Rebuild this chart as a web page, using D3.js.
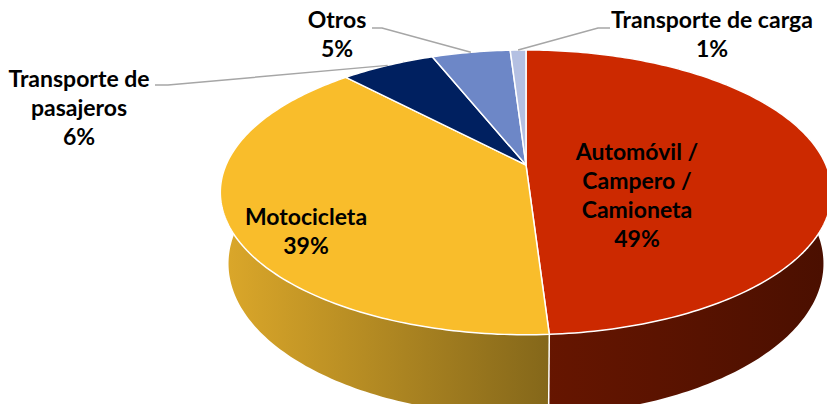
<!DOCTYPE html>
<html>
<head>
<meta charset="utf-8">
<script src="https://cdn.jsdelivr.net/npm/d3@7"></script>
<style>
  html, body { margin: 0; padding: 0; background: #fff; }
  svg { display: block; }
  text { font-family: Lato, "Open Sans", sans-serif; font-weight: 700; fill: #000; }
</style>
</head>
<body>
<svg id="chart" width="827" height="404"></svg>
<script>
// ---- data ----
const categories = ["Automóvil / Campero / Camioneta", "Motocicleta", "Transporte de pasajeros", "Otros", "Transporte de carga"];
const values = [49, 39, 6, 5, 1];
const labelLines = [
  ["Automóvil /", "Campero /", "Camioneta"],
  ["Motocicleta"],
  ["Transporte de", "pasajeros"],
  ["Otros"],
  ["Transporte de carga"]
];

// ---- styles ----
const topColors = ["#CC2900", "#F9BD2B", "#002060", "#6D87C7", "#B4C0E2"];
const sideColors = [["#681600", "#4A0F00"], ["#DCA82A", "#84671A"], ["#001338", "#001338"], ["#415178", "#415178"], ["#6c7388", "#6c7388"]];

// ---- layout / projection ----
const W = 827, H = 404;
const cx = 526, cy = 165;
const S = 300;                 // screen scale of unit radius at centre depth
const k = 0.216;               // radius / camera distance (perspective)
const alpha = 27.2 * Math.PI / 180; // elevation
const depth = 0.27;            // thickness / radius
const sa = Math.sin(alpha), ca = Math.cos(alpha);

// phi: angle clockwise from the back (12 o'clock) of the pie, rho: radius fraction, yy: height
function proj(phi, rho, yy) {
  const X = rho * Math.sin(phi);
  const Z = -rho * Math.cos(phi);
  const d = 1 - k * (yy * sa + Z * ca);
  const up = yy * ca - Z * sa;
  return [cx + S * X / d, cy - S * up / d];
}

const svg = d3.select("#chart");

const pie = d3.pie().sort(null).value(d => d)
  .startAngle(0).endAngle(2 * Math.PI);
const arcs = pie(values);

function arcPoints(a0, a1, yy) {
  const pts = [];
  const steps = Math.max(2, Math.ceil(Math.abs(a1 - a0) / (Math.PI / 180)));
  for (let i = 0; i <= steps; i++) {
    const a = a0 + (a1 - a0) * i / steps;
    pts.push(proj(a, 1, yy));
  }
  return pts;
}

const line = d3.line();
const defs = svg.append("defs");

// gradients for side faces
arcs.forEach((a, i) => {
  const ps = arcPoints(a.startAngle, a.endAngle, 0).concat(arcPoints(a.startAngle, a.endAngle, -depth));
  const xs = ps.map(p => p[0]);
  const xmin = d3.min(xs), xmax = d3.max(xs);
  const g = defs.append("linearGradient")
    .attr("id", "side" + i)
    .attr("gradientUnits", "userSpaceOnUse")
    .attr("x1", i === 1 ? xmin : xmax).attr("x2", i === 1 ? xmax : xmin)
    .attr("y1", 0).attr("y2", 0);
  if (i === 1) {
    g.append("stop").attr("offset", 0).attr("stop-color", sideColors[i][0]);
    g.append("stop").attr("offset", 1).attr("stop-color", sideColors[i][1]);
  } else {
    g.append("stop").attr("offset", 0).attr("stop-color", sideColors[i][1]);
    g.append("stop").attr("offset", 1).attr("stop-color", sideColors[i][0]);
  }
});

// side faces
const sides = svg.append("g");
arcs.forEach((a, i) => {
  const top = arcPoints(a.startAngle, a.endAngle, 0);
  const bot = arcPoints(a.startAngle, a.endAngle, -depth).reverse();
  sides.append("path")
    .attr("d", line(top.concat(bot)) + "Z")
    .attr("fill", `url(#side${i})`)
    .attr("stroke", "none");
});
// seams on the side
arcs.forEach(a => {
  sides.append("path")
    .attr("d", line([proj(a.startAngle, 1, 0), proj(a.startAngle, 1, -depth)]))
    .attr("stroke", "#fff").attr("stroke-width", 1.5).attr("fill", "none");
});

// top faces
const tops = svg.append("g");
arcs.forEach((a, i) => {
  const pts = [proj(0, 0, 0)].concat(arcPoints(a.startAngle, a.endAngle, 0));
  tops.append("path")
    .attr("d", line(pts) + "Z")
    .attr("fill", topColors[i])
    .attr("stroke", "#fff")
    .attr("stroke-width", 1.5)
    .attr("stroke-linejoin", "round");
});

// ---- labels ----
const fmt = v => v + "%";
const fontSize = 23, lh = 29;
// label layout: centre x, first baseline y, optional leader (elbow x, elbow y, end x)
const labelLayout = [
  { x: 637, y: 160, inside: true },
  { x: 306, y: 225, inside: true },
  { x: 79,  y: 87,  lead: [168, 85, 155] },
  { x: 337, y: 28,  lead: [382, 28, 372] },
  { x: 712, y: 28,  lead: [598, 28, 610] }
];

const labels = svg.append("g");
arcs.forEach((a, i) => {
  const L = labelLayout[i];
  if (L.lead) {
    const mid = (a.startAngle + a.endAngle) / 2;
    const p = proj(mid, 1, 0);
    labels.append("path")
      .attr("d", line([p, [L.lead[0], L.lead[1]], [L.lead[2], L.lead[1]]]))
      .attr("stroke", "#A6A6A6").attr("stroke-width", 1.5).attr("fill", "none");
  }
  const lines = labelLines[i].concat([fmt(values[i])]);
  const t = labels.append("text").attr("text-anchor", "middle").style("font-size", fontSize + "px");
  lines.forEach((s, j) => {
    t.append("tspan").attr("x", L.x).attr("y", L.y + j * lh).text(s);
  });
});
</script>
</body>
</html>
